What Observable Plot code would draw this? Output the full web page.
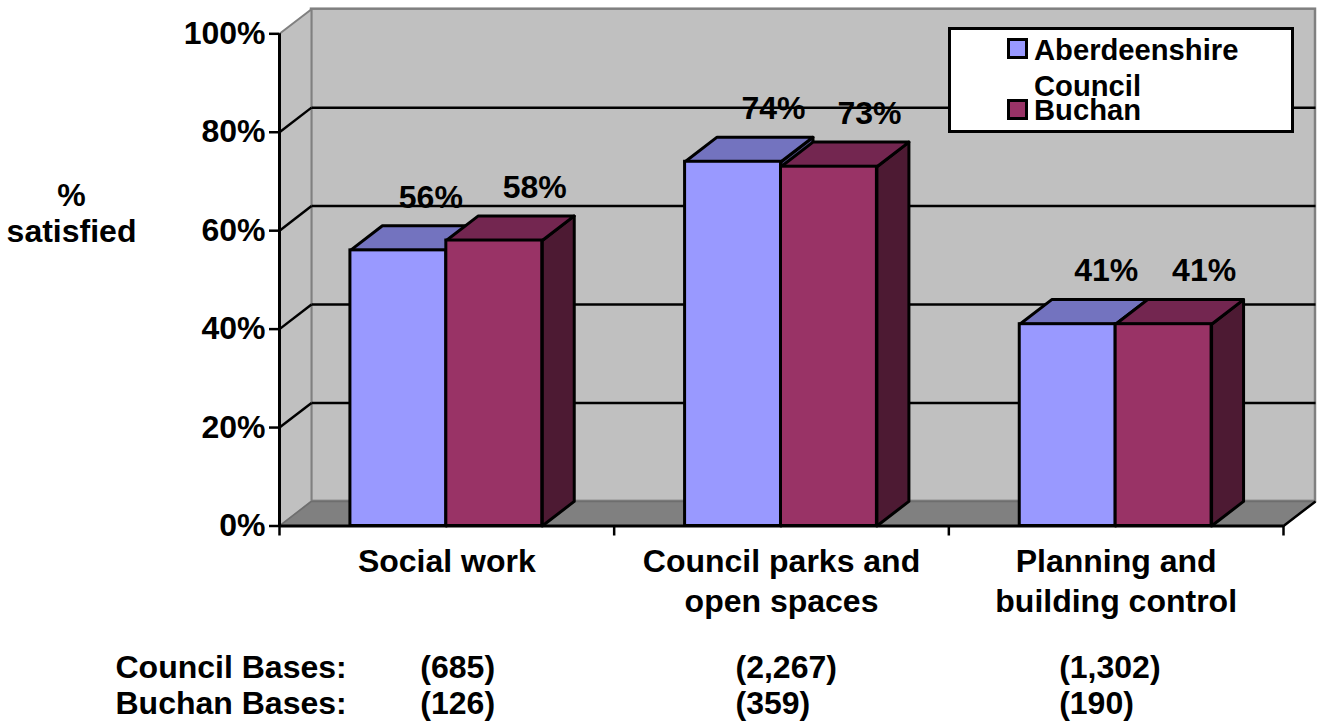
<!DOCTYPE html>
<html>
<head>
<meta charset="utf-8">
<script src="https://cdn.jsdelivr.net/npm/d3@7"></script>
<script src="https://cdn.jsdelivr.net/npm/@observablehq/plot@0.6"></script>
<style>
  html, body { margin: 0; padding: 0; background: #fff; }
  #wrap { position: relative; width: 1317px; height: 724px; overflow: hidden; font-family: "Liberation Sans", Arial, sans-serif; font-weight: 700; color: #000; }
  #wrap svg { display: block; }
  #legend { position: absolute; left: 948px; top: 27px; width: 340px; height: 100px; background: #fff; border: 3px solid #000; font-size: 29.2px; line-height: 1; }
  #legend .sw { position: absolute; left: 56px; width: 15px; height: 15px; border: 3px solid #000; }
  #legend .t { position: absolute; left: 83px; white-space: nowrap; }
</style>
</head>
<body>
<div id="wrap"></div>
<script>
// Data
const categories = ["Social work", "Council parks and\nopen spaces", "Planning and\nbuilding control"];
const council = [56, 74, 41];
const buchan = [58, 73, 41];
const councilBases = ["(685)", "(2,267)", "(1,302)"];
const buchanBases = ["(126)", "(359)", "(190)"];
const yTicks = [0, 20, 40, 60, 80, 100];
const xTicks = [0, 1, 2, 3];
const seriesNames = ["Aberdeenshire\nCouncil", "Buchan"];

// Layout (in scale units)
const depthX = 0.0956, depthY = 5, barW = 0.2866, barShift = -0.0015;
const labelNudge = {council: [-0.024, 0, -0.006], buchan: [0, 0, 0]};
const baseNudge = [-26.5, -46, -57];
const FONT = 32;

const poly = (pts) => pts.map(([x, y]) => ({x, y}));
const bars = (values, offset) => values.map((v, i) => {
  const x1 = i + 0.5 + offset + barShift, x2 = x1 + barW;
  return {
    v, x1, x2,
    side: poly([[x2, 0], [x2 + depthX, depthY], [x2 + depthX, v + depthY], [x2, v], [x2, 0]]),
    top: poly([[x1, v], [x1 + depthX, v + depthY], [x2 + depthX, v + depthY], [x2, v], [x1, v]])
  };
});
const seriesMarks = (values, offset, front, top, side) => {
  const bs = bars(values, offset);
  const marks = [];
  bs.forEach((b) => {
    marks.push(Plot.line(b.side, {x: "x", y: "y", fill: side, stroke: "#000", strokeWidth: 3}));
    marks.push(Plot.line(b.top, {x: "x", y: "y", fill: top, stroke: "#000", strokeWidth: 3}));
  });
  marks.push(Plot.rect(bs, {x1: "x1", x2: "x2", y1: () => 0, y2: "v", fill: front, stroke: "#000", strokeWidth: 3}));
  return marks;
};

const wallEdge = "#808080";
const chart = Plot.plot({
  width: 1317,
  height: 724,
  marginLeft: 279,
  marginRight: 34,
  marginTop: 33.3,
  marginBottom: 198.5,
  style: {background: "#fff", fontFamily: '"Liberation Sans", Arial, sans-serif', fontWeight: 700, overflow: "visible"},
  x: {domain: [0, 3], label: null},
  y: {domain: [0, 100], label: null},
  marks: [
    // back wall
    Plot.rect([0], {x1: () => depthX, x2: () => 3 + depthX, y1: () => depthY, y2: () => 100 + depthY, fill: "#c0c0c0", stroke: wallEdge, strokeWidth: 2.5}),
    // left wall
    Plot.line(poly([[0, 0], [depthX, depthY], [depthX, 100 + depthY], [0, 100], [0, 0]]), {x: "x", y: "y", fill: "#c0c0c0", stroke: wallEdge, strokeWidth: 2}),
    // floor
    Plot.line(poly([[0, 0], [depthX, depthY], [3 + depthX, depthY], [3, 0], [0, 0]]), {x: "x", y: "y", fill: "#808080", stroke: "#6e6e6e", strokeWidth: 1.5}),
    Plot.link([0], {x1: () => 3, y1: () => 0, x2: () => 3 + depthX, y2: () => depthY, stroke: "#000", strokeWidth: 2.5}),
    // gridlines on the back and left walls
    Plot.link(yTicks.slice(1, -1), {x1: () => depthX, x2: () => 3 + depthX, y1: (d) => d + depthY, y2: (d) => d + depthY, stroke: "#000", strokeWidth: 2.5}),
    Plot.link(yTicks.slice(1, -1), {x1: () => 0, x2: () => depthX, y1: (d) => d, y2: (d) => d + depthY, stroke: "#000", strokeWidth: 2.5}),
    // bars
    ...seriesMarks(council, -barW, "#9999ff", "#7373bf", "#4d4d80"),
    ...seriesMarks(buchan, 0, "#993366", "#732650", "#4d1a33"),
    // axes
    Plot.axisY(yTicks, {anchor: "left", tickSize: 10, tickPadding: 4, tickFormat: (d) => d + "%", fontSize: FONT, fontWeight: 700, label: null, stroke: "#000", strokeWidth: 2.5, color: "#000"}),
    Plot.axisX(xTicks, {anchor: "bottom", tickSize: 10, tickFormat: () => "", label: null, stroke: "#000", strokeWidth: 2.5}),
    Plot.ruleX([0], {y1: () => 0, y2: () => 100, stroke: "#000", strokeWidth: 3}),
    Plot.ruleY([0], {x1: () => 0, x2: () => 3, stroke: "#000", strokeWidth: 3}),
    // category labels
    Plot.text(categories, {x: (d, i) => i + 0.5, frameAnchor: "bottom", lineAnchor: "top", dy: 18, lineHeight: 1.25, fontSize: FONT, fontWeight: 700, fill: "#000"}),
    // value labels
    Plot.text(council, {x: (d, i) => i + 0.5 - barW / 2 + labelNudge.council[i], y: (d) => d, text: (d) => d + "%", dx: 40, dy: -53, fontSize: FONT, fontWeight: 700, fill: "#000"}),
    Plot.text(buchan, {x: (d, i) => i + 0.5 + barW / 2 + labelNudge.buchan[i], y: (d) => d, text: (d) => d + "%", dx: 40, dy: -53, fontSize: FONT, fontWeight: 700, fill: "#000"}),
    // y title
    Plot.text(["%\nsatisfied"], {frameAnchor: "left", textAnchor: "middle", dx: -208, dy: -67.5, lineHeight: 1.125, fontSize: FONT, fontWeight: 700, fill: "#000"}),
    // bases
    Plot.text(["Council Bases:"], {frameAnchor: "bottom-left", lineAnchor: "middle", dx: -164, dy: 141.5, textAnchor: "start", fontSize: FONT, fontWeight: 700, fill: "#000"}),
    Plot.text(["Buchan Bases:"], {frameAnchor: "bottom-left", lineAnchor: "middle", dx: -164, dy: 177.5, textAnchor: "start", fontSize: FONT, fontWeight: 700, fill: "#000"}),
    ...councilBases.map((t, i) => Plot.text([t], {x: () => i + 0.5, frameAnchor: "bottom", lineAnchor: "middle", textAnchor: "start", dx: baseNudge[i], dy: 141.5, fontSize: FONT, fontWeight: 700, fill: "#000"})),
    ...buchanBases.map((t, i) => Plot.text([t], {x: () => i + 0.5, frameAnchor: "bottom", lineAnchor: "middle", textAnchor: "start", dx: baseNudge[i], dy: 177.5, fontSize: FONT, fontWeight: 700, fill: "#000"}))
  ]
});

const wrap = document.getElementById("wrap");
wrap.appendChild(chart);

// Legend overlaid on the chart
const legend = document.createElement("div");
legend.id = "legend";
const [firstLine, secondLine] = seriesNames[0].split("\n");
legend.innerHTML =
  `<div class="sw" style="top:8px;background:#9999ff"></div>` +
  `<div class="t" style="top:6px">${firstLine}</div>` +
  `<div class="t" style="top:42px">${secondLine}</div>` +
  `<div class="sw" style="top:69px;background:#993366"></div>` +
  `<div class="t" style="top:66px">${seriesNames[1]}</div>`;
wrap.appendChild(legend);
</script>
</body>
</html>
